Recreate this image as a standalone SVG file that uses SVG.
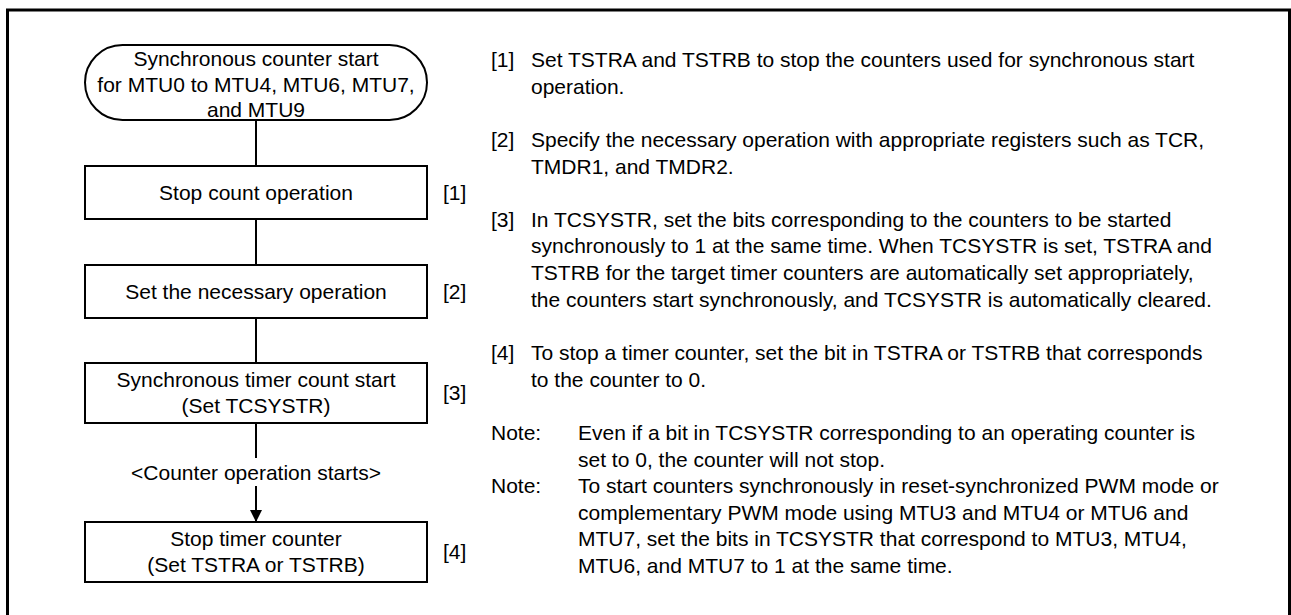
<svg xmlns="http://www.w3.org/2000/svg" width="1291" height="615" viewBox="0 0 1291 615">
  <defs>
    <style>
      text { font-family: "Liberation Sans", Arial, sans-serif; font-size: 21px; fill: #000; }
      .c { text-anchor: middle; }
      .box { fill: #fff; stroke: #000; stroke-width: 2; }
      .line { fill: none; stroke: #000; stroke-width: 2; }
    </style>
    <marker id="arrow" viewBox="0 0 12 12" refX="12" refY="6" markerWidth="12" markerHeight="12" markerUnits="userSpaceOnUse" orient="auto">
      <path d="M0,0 L12,6 L0,12 Z" fill="#000"/>
    </marker>
  </defs>
  <rect x="0" y="0" width="1291" height="615" fill="#fff"/>
  <rect id="frame" x="7.5" y="10" width="1282" height="620" fill="none" stroke="#000" stroke-width="3"/>

  <g id="connectors">
    <line class="line" x1="256" y1="120" x2="256" y2="166"/>
    <line class="line" x1="256" y1="219" x2="256" y2="265"/>
    <line class="line" x1="256" y1="318" x2="256" y2="363"/>
    <line class="line" x1="256" y1="423" x2="256" y2="458"/>
    <line class="line" x1="256" y1="486" x2="256" y2="522" marker-end="url(#arrow)"/>
    <text class="c" x="256" y="480">&lt;Counter operation starts&gt;</text>
  </g>

  <g id="start">
    <rect class="box" x="85" y="45" width="342" height="75" rx="37.5" ry="37.5"/>
    <text class="c" x="256" y="66">Synchronous counter start</text>
    <text class="c" x="256" y="92">for MTU0 to MTU4, MTU6, MTU7,</text>
    <text class="c" x="256" y="117">and MTU9</text>
  </g>

  <g id="step1">
    <rect class="box" x="85" y="166" width="342" height="53"/>
    <text class="c" x="256" y="200">Stop count operation</text>
    <text x="443" y="200">[1]</text>
  </g>

  <g id="step2">
    <rect class="box" x="85" y="265" width="342" height="53"/>
    <text class="c" x="256" y="299">Set the necessary operation</text>
    <text x="443" y="299">[2]</text>
  </g>

  <g id="step3">
    <rect class="box" x="85" y="363" width="342" height="60"/>
    <text class="c" x="256" y="387">Synchronous timer count start</text>
    <text class="c" x="256" y="413">(Set TCSYSTR)</text>
    <text x="443" y="400">[3]</text>
  </g>

  <g id="step4">
    <rect class="box" x="85" y="522" width="342" height="60"/>
    <text class="c" x="256" y="546">Stop timer counter</text>
    <text class="c" x="256" y="572">(Set TSTRA or TSTRB)</text>
    <text x="443" y="559">[4]</text>
  </g>

  <g id="notes">
    <text x="491" y="67">[1]</text>
    <text x="531" y="67">Set TSTRA and TSTRB to stop the counters used for synchronous start</text>
    <text x="531" y="93.6">operation.</text>
    <text x="491" y="147">[2]</text>
    <text x="531" y="147">Specify the necessary operation with appropriate registers such as TCR,</text>
    <text x="531" y="173.5">TMDR1, and TMDR2.</text>
    <text x="491" y="226.8">[3]</text>
    <text x="531" y="226.8">In TCSYSTR, set the bits corresponding to the counters to be started</text>
    <text x="531" y="253.4">synchronously to 1 at the same time. When TCSYSTR is set, TSTRA and</text>
    <text x="531" y="280">TSTRB for the target timer counters are automatically set appropriately,</text>
    <text x="531" y="306.7">the counters start synchronously, and TCSYSTR is automatically cleared.</text>
    <text x="491" y="360">[4]</text>
    <text x="531" y="360">To stop a timer counter, set the bit in TSTRA or TSTRB that corresponds</text>
    <text x="531" y="386.6">to the counter to 0.</text>
    <text x="491" y="440">Note:</text>
    <text x="578" y="440">Even if a bit in TCSYSTR corresponding to an operating counter is</text>
    <text x="578" y="466.5">set to 0, the counter will not stop.</text>
    <text x="491" y="493">Note:</text>
    <text x="578" y="493">To start counters synchronously in reset-synchronized PWM mode or</text>
    <text x="578" y="519.7">complementary PWM mode using MTU3 and MTU4 or MTU6 and</text>
    <text x="578" y="546.3">MTU7, set the bits in TCSYSTR that correspond to MTU3, MTU4,</text>
    <text x="578" y="573">MTU6, and MTU7 to 1 at the same time.</text>
  </g>
</svg>
